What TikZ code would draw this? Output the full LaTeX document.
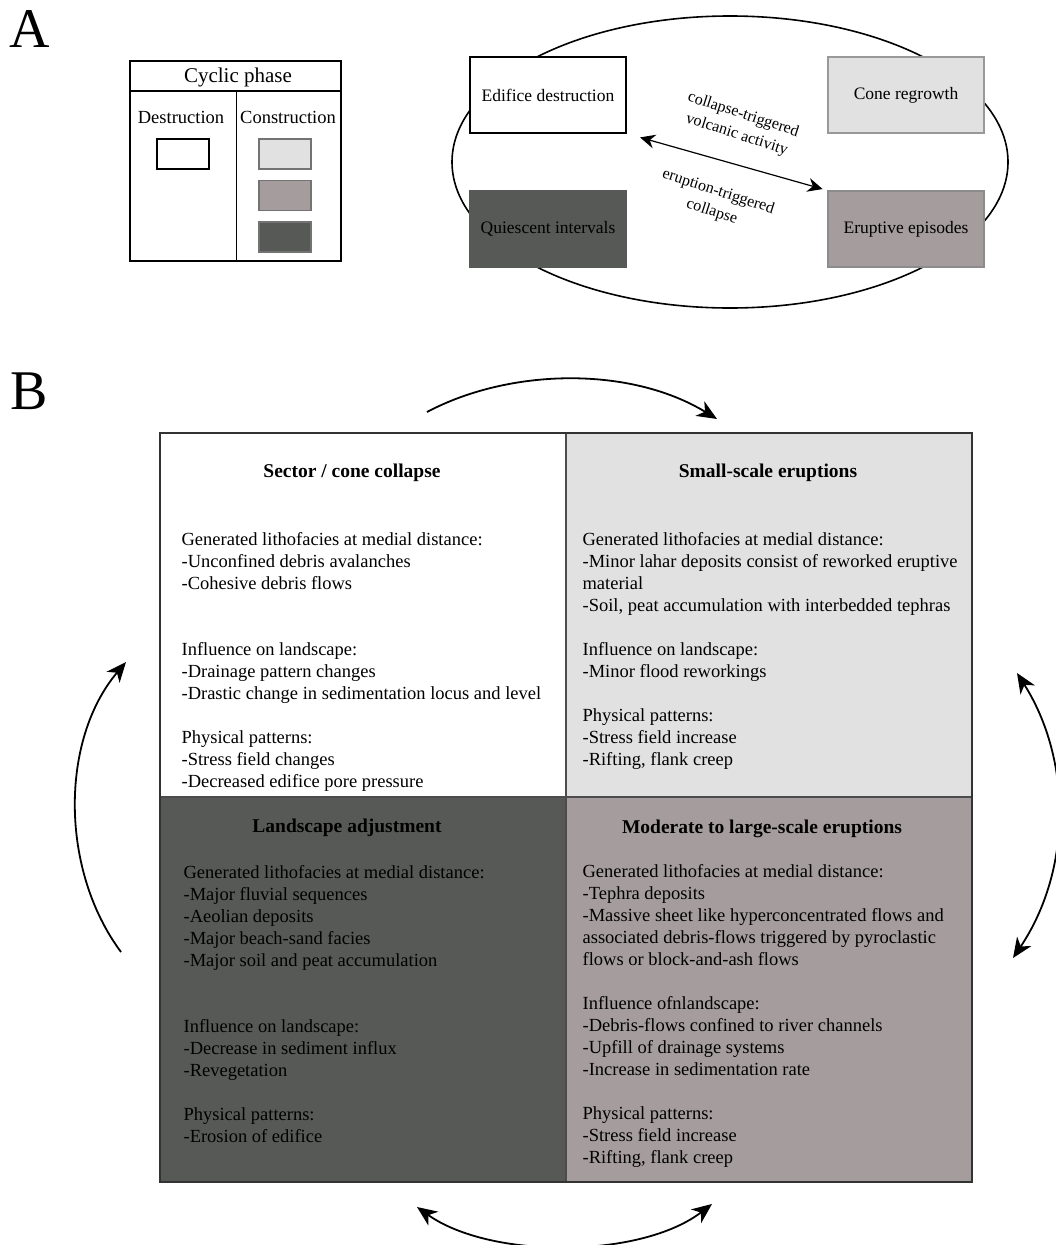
\documentclass[tikz,border=0pt]{standalone}
\usepackage{fontspec}
\setmainfont{Liberation Serif}
\usetikzlibrary{arrows.meta}

\definecolor{lightgrey}{RGB}{225,225,225}
\definecolor{midgrey}{RGB}{165,157,157}
\definecolor{darkgrey}{RGB}{87,89,86}

\begin{document}
\begin{tikzpicture}
  [x=1pt,y=-1pt,line width=1.2pt,
   >={Stealth[length=20pt,width=17pt,inset=6pt]},
   phase/.style={draw,minimum width=156pt,minimum height=76pt,inner sep=0pt,font=\fontsize{17.5}{21}\selectfont},
   swatch/.style={draw=black!55,minimum width=52pt,minimum height=30pt,inner sep=0pt},
   arrowtext/.style={align=center,inner sep=0pt,rotate=-18,font=\fontsize{16}{21}\selectfont},
   head/.style={inner sep=0pt,font=\fontsize{19.5}{22}\selectfont\bfseries},
   body/.style={anchor=north west,align=left,inner sep=0pt,font=\fontsize{18.5}{22}\selectfont},
   cyclearrow/.style={line width=1.8pt}]
  \useasboundingbox (0,0) rectangle (1056,1245);

  % panel A
  \node[inner sep=0pt,font=\fontsize{56}{56}\selectfont] (tagA) at (30,29) {A};
  \draw (130,61) rectangle (341,261);
  \draw[line width=2pt] (130,91) -- (341,91);
  \draw[line width=0.8pt] (236,91) -- (236,261);
  \node[inner sep=0pt,font=\fontsize{21}{24}\selectfont] (cyc) at (238,77) {Cyclic phase};
  \node[inner sep=0pt,font=\fontsize{18.5}{22}\selectfont] (destr) at (181,117) {Destruction};
  \node[inner sep=0pt,font=\fontsize{18.5}{22}\selectfont] (constr) at (288,117) {Construction};
  \node[swatch,draw=black,fill=white] (sw1) at (183,154) {};
  \node[swatch,fill=lightgrey] (sw2) at (285,154) {};
  \node[swatch,fill=midgrey] (sw3) at (285,195.5) {};
  \node[swatch,fill=darkgrey] (sw4) at (285,237) {};

  \draw[line width=1.6pt] (730,162) ellipse [x radius=278, y radius=146];
  \node[phase,fill=white] (edif) at (548,95) {Edifice destruction};
  \node[phase,draw=black!40,fill=lightgrey] (cone) at (906,95) {Cone regrowth};
  \node[phase,draw=darkgrey,fill=darkgrey] (quiet) at (548,229) {Quiescent intervals};
  \node[phase,draw=black!45,fill=midgrey] (erupt) at (906,229) {Eruptive episodes};
  \draw[{Stealth[length=15pt,width=14pt,inset=5pt]}-{Stealth[length=15pt,width=14pt,inset=5pt]},line width=1.2pt,shorten <=14pt,shorten >=5pt] (edif.south east) -- (erupt.north west);
  \node[arrowtext] (volc) at (740,125) {collapse-triggered\\volcanic activity};
  \node[arrowtext] (coll) at (715,202) {eruption-triggered\\collapse};

  % panel B
  \node[inner sep=0pt,font=\fontsize{56}{56}\selectfont] (tagB) at (29,391) {B};
  \filldraw[draw=black!70,fill=white] (160,433) rectangle (566,797);
  \filldraw[draw=black!70,fill=lightgrey] (566,433) rectangle (972,797);
  \filldraw[draw=black!70,fill=darkgrey] (160,797) rectangle (566,1182);
  \filldraw[draw=black!70,fill=midgrey] (566,797) rectangle (972,1182);
  \draw[line width=1.6pt,black!80] (160,433) rectangle (972,1182);

  \node[head] (sector) at (352,473) {Sector / cone collapse};
  \node[body] (sectortxt) at (181,532) {Generated lithofacies at medial distance:\\
    -Unconfined debris avalanches\\
    -Cohesive debris flows\\[44pt]
    Influence on landscape:\\
    -Drainage pattern changes\\
    -Drastic change in sedimentation locus and level\\[22pt]
    Physical patterns:\\
    -Stress field changes\\
    -Decreased edifice pore pressure};

  \node[head] (small) at (768,473) {Small-scale eruptions};
  \node[body] (smalltxt) at (582,532) {Generated lithofacies at medial distance:\\
    -Minor lahar deposits consist of reworked eruptive\\
    material\\
    -Soil, peat accumulation with interbedded tephras\\[22pt]
    Influence on landscape:\\
    -Minor flood reworkings\\[22pt]
    Physical patterns:\\
    -Stress field increase\\
    -Rifting, flank creep};

  \node[head] (landsc) at (347,828) {Landscape adjustment};
  \node[body] (landsctxt) at (183,865) {Generated lithofacies at medial distance:\\
    -Major fluvial sequences\\
    -Aeolian deposits\\
    -Major beach-sand facies\\
    -Major soil and peat accumulation\\[44pt]
    Influence on landscape:\\
    -Decrease in sediment influx\\
    -Revegetation\\[22pt]
    Physical patterns:\\
    -Erosion of edifice};

  \node[head] (large) at (762,829) {Moderate to large-scale eruptions};
  \node[body] (largetxt) at (582,864) {Generated lithofacies at medial distance:\\
    -Tephra deposits\\
    -Massive sheet like hyperconcentrated flows and\\
    associated debris-flows triggered by pyroclastic\\
    flows or block-and-ash flows\\[22pt]
    Influence ofnlandscape:\\
    -Debris-flows confined to river channels\\
    -Upfill of drainage systems\\
    -Increase in sedimentation rate\\[22pt]
    Physical patterns:\\
    -Stress field increase\\
    -Rifting, flank creep};

  % cycle arrows
  \coordinate (topa) at (427,412);
  \coordinate (topb) at (717,419);
  \coordinate (lefta) at (121,952);
  \coordinate (leftb) at (126,662);
  \coordinate (righta) at (1017,673);
  \coordinate (rightb) at (1013,958);
  \coordinate (bota) at (417,1207);
  \coordinate (botb) at (712,1204);
  \draw[cyclearrow,->] (topa) .. controls (510,368) and (630,366) .. (topb);
  \draw[cyclearrow,->] (lefta) .. controls (60,870) and (60,740) .. (leftb);
  \draw[cyclearrow,<->] (righta) .. controls (1072,760) and (1072,870) .. (rightb);
  \draw[cyclearrow,<->] (bota) .. controls (490,1259) and (640,1259) .. (botb);
\end{tikzpicture}
\end{document}
